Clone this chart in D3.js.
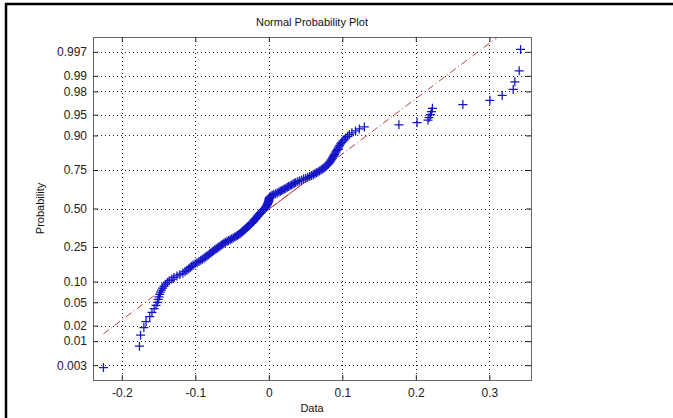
<!DOCTYPE html>
<html>
<head>
<meta charset="utf-8">
<script src="https://cdn.jsdelivr.net/npm/d3@7"></script>
<style>
  body { margin: 0; background: #fff; }
  text { font-family: "Liberation Sans", Arial, sans-serif; }
</style>
</head>
<body>
<div id="normplot"></div>
<script>
// sorted sample values
const sample = [
  -0.225, -0.176, -0.1745, -0.170, -0.167, -0.162, -0.159, -0.156, -0.1535, -0.1515,
  -0.1505, -0.1495, -0.1485, -0.1475, -0.146, -0.1445, -0.1425, -0.1405, -0.138, -0.1355,
  -0.132, -0.129, -0.125, -0.121, -0.117, -0.114, -0.1115, -0.109, -0.107, -0.105,
  -0.103, -0.1002, -0.0976, -0.095, -0.0926, -0.0902, -0.088, -0.0861, -0.0842, -0.0824,
  -0.0805, -0.0787, -0.0770, -0.0752, -0.0734, -0.0716, -0.0698, -0.068, -0.0663, -0.0645,
  -0.0627, -0.0611, -0.0592, -0.0569, -0.0548, -0.0526, -0.0505, -0.0484, -0.0463, -0.0445,
  -0.0429, -0.0411, -0.0394, -0.0379, -0.0368, -0.0354, -0.0341, -0.0330, -0.0317, -0.0305,
  -0.0294, -0.0282, -0.0271, -0.0259, -0.0249, -0.0237, -0.0226, -0.0216, -0.0207, -0.0198,
  -0.0189, -0.0180, -0.0171, -0.0162, -0.0154, -0.0146, -0.0138, -0.0130, -0.0122, -0.0112,
  -0.0101, -0.0090, -0.0080, -0.0070, -0.0060, -0.0050, -0.0044, -0.0038, -0.0031, -0.0025,
  -0.0019, -0.0015, -0.0011, -0.0007, -0.0003, 0.0000, 0.0001, 0.0003, 0.0006, 0.0009,
  0.0017, 0.0030, 0.0047, 0.0068, 0.0092, 0.0115, 0.0137, 0.0156, 0.0175, 0.0193,
  0.0212, 0.0232, 0.0251, 0.0269, 0.0290, 0.0310, 0.0329, 0.0347, 0.0367, 0.0394,
  0.0420, 0.0447, 0.0474, 0.0502, 0.0529, 0.0557, 0.0581, 0.0604, 0.0626, 0.0647,
  0.0668, 0.0689, 0.0710, 0.0728, 0.0747, 0.0764, 0.0778, 0.0793, 0.0808, 0.0819,
  0.0829, 0.0840, 0.0850, 0.0859, 0.0868, 0.0877, 0.0886, 0.0895, 0.0904, 0.0914,
  0.0924, 0.0934, 0.0944, 0.0954, 0.0964, 0.0977, 0.0991, 0.1006, 0.1026, 0.1048,
  0.1070, 0.1096, 0.1130, 0.1180, 0.1231, 0.1300, 0.177, 0.2017, 0.2166, 0.218,
  0.220, 0.2213, 0.2226, 0.264, 0.3007, 0.3175, 0.3325, 0.3347, 0.3406, 0.3425
];

const probTicks = [0.003, 0.01, 0.02, 0.05, 0.10, 0.25, 0.50, 0.75, 0.90, 0.95, 0.98, 0.99, 0.997];
const probLabels = ["0.003", "0.01", "0.02", "0.05", "0.10", "0.25", "0.50", "0.75", "0.90", "0.95", "0.98", "0.99", "0.997"];
const dataTicks = [-0.2, -0.1, 0, 0.1, 0.2, 0.3];
const dataLabels = ["-0.2", "-0.1", "0", "0.1", "0.2", "0.3"];

// inverse normal cdf (Acklam)
function norminv(p) {
  const a = [-39.69683028665376, 220.9460984245205, -275.9285104469687, 138.3577518672690, -30.66479806614716, 2.506628277459239];
  const b = [-54.47609879822406, 161.5858368580409, -155.6989798598866, 66.80131188771972, -13.28068155288572];
  const c = [-0.007784894002430293, -0.3223964580411365, -2.400758277161838, -2.549732539343734, 4.374664141464968, 2.938163982698783];
  const d = [0.007784695709041462, 0.3224671290700398, 2.445134137142996, 3.754408661907416];
  const plow = 0.02425;
  let q, r;
  if (p < plow) {
    q = Math.sqrt(-2 * Math.log(p));
    return (((((c[0]*q+c[1])*q+c[2])*q+c[3])*q+c[4])*q+c[5]) / ((((d[0]*q+d[1])*q+d[2])*q+d[3])*q+1);
  }
  if (p > 1 - plow) {
    q = Math.sqrt(-2 * Math.log(1 - p));
    return -(((((c[0]*q+c[1])*q+c[2])*q+c[3])*q+c[4])*q+c[5]) / ((((d[0]*q+d[1])*q+d[2])*q+d[3])*q+1);
  }
  q = p - 0.5; r = q * q;
  return (((((a[0]*r+a[1])*r+a[2])*r+a[3])*r+a[4])*r+a[5])*q / (((((b[0]*r+b[1])*r+b[2])*r+b[3])*r+b[4])*r+1);
}

// matlab style percentile
function prctile(xs, p) {
  const pos = p * xs.length + 0.5 - 1;
  const lo = Math.floor(pos), t = pos - lo;
  return xs[lo] + t * (xs[lo + 1] - xs[lo]);
}

const n = sample.length;
const points = sample.map((v, i) => ({ x: v, z: norminv((i + 0.5) / n) }));

const axLeft = 93, axRight = 531, axTop = 37, axBottom = 380;

const svg = d3.select("#normplot")
  .append("svg")
  .attr("width", 673)
  .attr("height", 418);

// frame of the surrounding table cell
svg.append("line").attr("x1", 6).attr("x2", 6).attr("y1", 3).attr("y2", 418)
  .attr("stroke", "#000").attr("stroke-width", 2.5);
svg.append("line").attr("x1", 5).attr("x2", 673).attr("y1", 4).attr("y2", 4)
  .attr("stroke", "#000").attr("stroke-width", 2.5);

const xmin = d3.min(sample), xmax = d3.max(sample);
const pad = 0.025 * (xmax - xmin);
const x = d3.scaleLinear().domain([xmin - pad, xmax + pad]).range([axLeft, axRight]);
const zlim = norminv(1 - 0.25 / n);
const y = d3.scaleLinear().domain([-zlim, zlim]).range([axBottom, axTop]);

// grid
const grid = svg.append("g").attr("stroke", "#222").attr("stroke-width", 1)
  .attr("stroke-dasharray", "1,3").attr("shape-rendering", "crispEdges");
grid.selectAll(".gx").data(dataTicks).join("line")
  .attr("x1", d => Math.round(x(d)) + 0.5).attr("x2", d => Math.round(x(d)) + 0.5)
  .attr("y1", axTop).attr("y2", axBottom);
grid.selectAll(".gy").data(probTicks).join("line")
  .attr("x1", axLeft).attr("x2", axRight)
  .attr("y1", d => Math.round(y(norminv(d))) + 0.5).attr("y2", d => Math.round(y(norminv(d))) + 0.5);

// reference line through the quartiles
const q1 = prctile(sample, 0.25), q3 = prctile(sample, 0.75);
const z1 = norminv(0.25), z3 = norminv(0.75);
const slope = (z3 - z1) / (q3 - q1);
const zAt = v => z1 + slope * (v - q1);

svg.append("clipPath").attr("id", "clip")
  .append("rect").attr("x", axLeft).attr("y", axTop).attr("width", axRight - axLeft).attr("height", axBottom - axTop);

const refLine = svg.append("g").attr("clip-path", "url(#clip)")
  .attr("stroke", "#c83c3c").attr("stroke-width", 1).attr("fill", "none");
refLine.append("line")
  .attr("x1", x(xmin)).attr("y1", y(zAt(xmin)))
  .attr("x2", x(xmax)).attr("y2", y(zAt(xmax)))
  .attr("stroke-dasharray", "7,3,1,3");
refLine.append("line")
  .attr("x1", x(q1)).attr("y1", y(zAt(q1)))
  .attr("x2", x(q3)).attr("y2", y(zAt(q3)));

// data markers
svg.append("g")
  .selectAll("path")
  .data(points)
  .join("path")
  .attr("transform", d => `translate(${x(d.x)},${y(d.z)})`)
  .attr("d", "M-4.5,0H4.5M0,-4.5V4.5")
  .attr("stroke", "#1414c8")
  .attr("stroke-width", 1.25)
  .attr("fill", "none");

// axes with inward ticks
const zTicks = probTicks.map(norminv);
const axL = svg.append("g").attr("transform", `translate(${axLeft},0)`)
  .call(d3.axisLeft(y).tickValues(zTicks).tickFormat((d, i) => probLabels[i]).tickSize(-5).tickPadding(6));
const axR = svg.append("g").attr("transform", `translate(${axRight},0)`)
  .call(d3.axisRight(y).tickValues(zTicks).tickFormat("").tickSize(-5));
const axB = svg.append("g").attr("transform", `translate(0,${axBottom})`)
  .call(d3.axisBottom(x).tickValues(dataTicks).tickFormat((d, i) => dataLabels[i]).tickSize(-5).tickPadding(8));
const axT = svg.append("g").attr("transform", `translate(0,${axTop})`)
  .call(d3.axisTop(x).tickValues(dataTicks).tickFormat("").tickSize(-5));

[axL, axR, axB, axT].forEach(ax => {
  ax.select(".domain").attr("stroke", "#666");
  ax.selectAll(".tick line").attr("stroke", "#222");
  ax.selectAll("text").attr("fill", "#222").style("font-size", "12px")
    .style("font-family", "'Liberation Sans', Arial, sans-serif");
});

// labels
svg.append("text").attr("x", (axLeft + axRight) / 2).attr("y", 26)
  .attr("text-anchor", "middle").style("font-size", "11px").attr("fill", "#111")
  .text("Normal Probability Plot");
svg.append("text").attr("x", (axLeft + axRight) / 2).attr("y", 412)
  .attr("text-anchor", "middle").style("font-size", "11px").attr("fill", "#111")
  .text("Data");
svg.append("text").attr("transform", `translate(44,${(axTop + axBottom) / 2}) rotate(-90)`)
  .attr("text-anchor", "middle").style("font-size", "11px").attr("fill", "#111")
  .text("Probability");
</script>
</body>
</html>
